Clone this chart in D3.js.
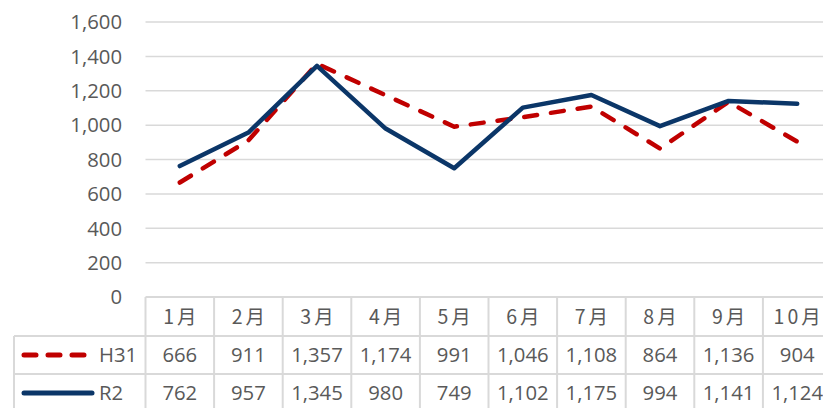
<!DOCTYPE html>
<html><head><meta charset="utf-8">
<script src="https://cdn.jsdelivr.net/npm/d3@7"></script>
<style>
html,body{margin:0;padding:0;background:#fff;}
svg{display:block;}
text{font-family:"Open Sans","Noto Sans",sans-serif;fill:#595959;}
text.cjk{font-family:"Noto Sans CJK JP",sans-serif;}
</style></head>
<body>
<svg id="chart" width="823" height="408"></svg>
<script>
const months = ["1月","2月","3月","4月","5月","6月","7月","8月","9月","10月"];
const seriesNames = ["H31","R2"];
const h31 = [666,911,1357,1174,991,1046,1108,864,1136,904];
const r2 = [762,957,1345,980,749,1102,1175,994,1141,1124];
const yTicks = [0,200,400,600,800,1000,1200,1400,1600];

const W = 823, H = 408;
const svg = d3.select("#chart");
const left = 145.5, colW = 68.6;
const right = left + colW*10;
const x = d3.scaleBand().domain(months).range([left, right]).padding(0);
const y = d3.scaleLinear().domain([0,1600]).range([297,22]);
const fmt = d3.format(",");
const grid = "#d9d9d9";
const FS = 20.3;

// gridlines
svg.append("g").selectAll("line").data(yTicks.filter(d=>d>0)).join("line")
  .attr("x1", left).attr("x2", W).attr("y1", d=>y(d)).attr("y2", d=>y(d))
  .attr("stroke", grid).attr("stroke-width", 1.5);

// y labels
svg.append("g").selectAll("text").data(yTicks).join("text")
  .attr("x", 122).attr("y", d=>y(d)).attr("dy","0.36em")
  .attr("text-anchor","end").attr("font-size",FS).text(d=>fmt(d));

// table
const rowTop = [297, 336, 374, 412];
const tbl = svg.append("g").attr("stroke", grid).attr("stroke-width", 2);
tbl.append("line").attr("x1", left).attr("x2", W).attr("y1", rowTop[0]).attr("y2", rowTop[0]);
tbl.append("line").attr("x1", 14).attr("x2", W).attr("y1", rowTop[1]).attr("y2", rowTop[1]);
tbl.append("line").attr("x1", 14).attr("x2", W).attr("y1", rowTop[2]).attr("y2", rowTop[2]);
tbl.append("line").attr("x1", 14).attr("x2", 14).attr("y1", rowTop[1]).attr("y2", H);
tbl.selectAll("line.v").data(d3.range(11)).join("line").attr("class","v")
  .attr("x1", i=>left+i*colW).attr("x2", i=>left+i*colW).attr("y1", rowTop[0]).attr("y2", H);

const cx = m => x(m) + x.bandwidth()/2;
svg.append("g").selectAll("text").data(months).join("text").attr("class","cjk")
  .attr("x", d=>cx(d)+1.5).attr("y", 316.5).attr("dy","0.36em")
  .attr("text-anchor","middle").attr("font-size",19.5).attr("letter-spacing",3).text(d=>d);
[h31, r2].forEach((arr, si) => {
  svg.append("g").selectAll("text").data(arr).join("text")
    .attr("x", (d,i)=>cx(months[i])).attr("y", (rowTop[si+1]+rowTop[si+2])/2)
    .attr("dy","0.36em").attr("text-anchor","middle").attr("font-size",FS).text(d=>fmt(d));
});

const red = "#C00000", navy = "#0B3668";
// legend
svg.append("line").attr("x1",24).attr("x2",86).attr("y1",355).attr("y2",355)
  .attr("stroke",red).attr("stroke-width",5).attr("stroke-linecap","round").attr("stroke-dasharray","12,12");
svg.append("text").attr("x",99).attr("y",355).attr("dy","0.36em").attr("font-size",FS).text(seriesNames[0]);
svg.append("line").attr("x1",24).attr("x2",92).attr("y1",393).attr("y2",393)
  .attr("stroke",navy).attr("stroke-width",5).attr("stroke-linecap","round");
svg.append("text").attr("x",99).attr("y",393).attr("dy","0.36em").attr("font-size",FS).text(seriesNames[1]);

// lines
const line = d3.line().x((d,i)=>cx(months[i])).y(d=>y(d));
svg.append("path").datum(h31).attr("d", line).attr("fill","none")
  .attr("stroke",red).attr("stroke-width",4.5).attr("stroke-linecap","round").attr("stroke-linejoin","round")
  .attr("stroke-dasharray","13,14");
svg.append("path").datum(r2).attr("d", line).attr("fill","none")
  .attr("stroke",navy).attr("stroke-width",4.5).attr("stroke-linecap","round").attr("stroke-linejoin","round");
</script>
</body></html>
